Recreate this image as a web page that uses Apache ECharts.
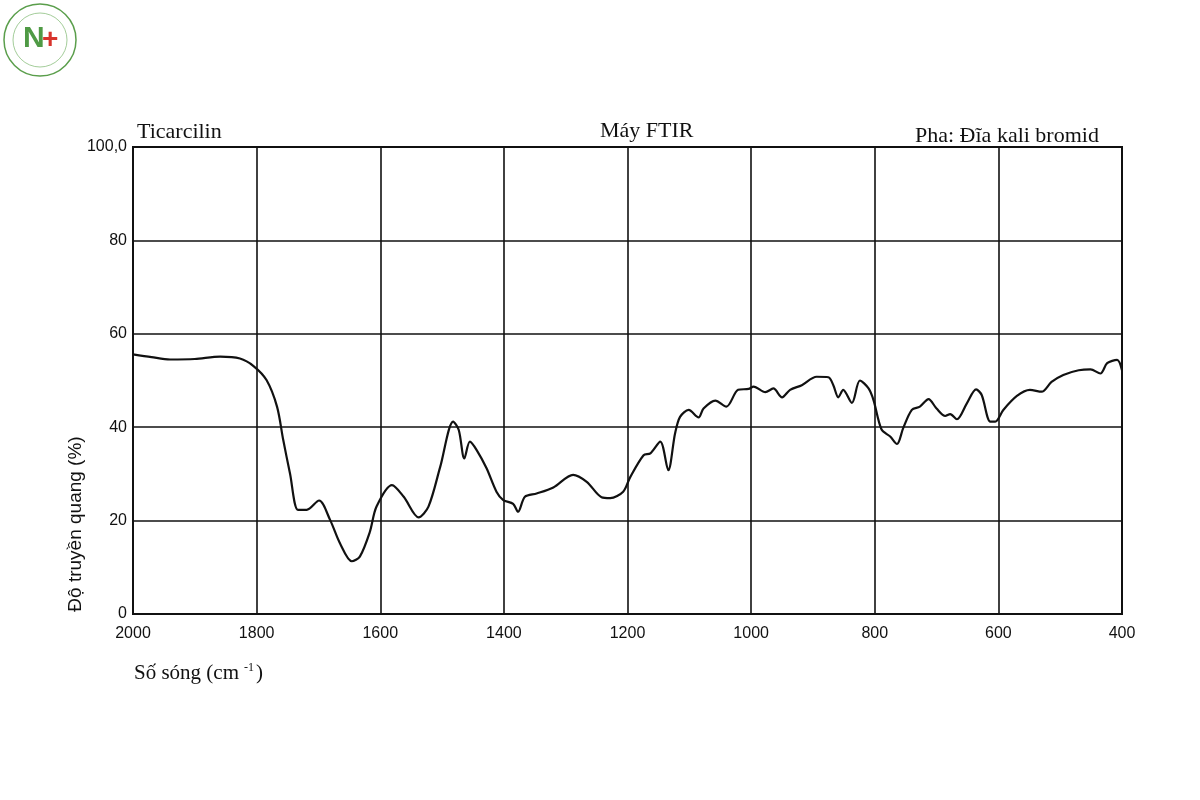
<!DOCTYPE html>
<html>
<head>
<meta charset="utf-8">
<script src="https://cdn.jsdelivr.net/npm/echarts@6/dist/echarts.min.js"></script>
<style>
  html, body { margin: 0; padding: 0; background: #fff; }
  #chart { width: 1200px; height: 800px; }
</style>
</head>
<body>
<div id="chart"></div>
<script>
// Phổ FTIR Ticarcilin - số sóng (cm-1) và độ truyền quang (%)
const wavenumbers = [
    2000, 1970, 1940, 1900, 1859, 1827, 1805, 1784, 1767, 1757, 1746, 1733, 1719, 1699,
    1681, 1665, 1646, 1633, 1617, 1606, 1581, 1562, 1538, 1522, 1503, 1482, 1473, 1464,
    1455, 1444, 1428, 1412, 1401, 1385, 1377, 1366, 1347, 1320, 1288, 1266, 1242, 1228,
    1207, 1196, 1174, 1163, 1147, 1134, 1123, 1115, 1101, 1085, 1077, 1058, 1040, 1021,
    1004, 996, 977, 964, 950, 937, 918, 894, 875, 867, 859, 851, 837, 824, 810, 802,
    789, 775, 764, 754, 740, 727, 713, 700, 686, 678, 667, 651, 636, 627, 613, 605,
    592, 570, 549, 530, 514, 495, 470, 451, 435, 424, 408, 400
];
const transmittance = [
    55.6, 55.0, 54.5, 54.6, 55.1, 54.7, 53.1, 50.1, 44.4, 37.3, 30.1, 22.3, 22.3, 24.3,
    20.1, 15.1, 11.3, 12.3, 17.5, 23.0, 27.6, 25.1, 20.7, 23.0, 31.5, 41.2, 39.4, 33.3,
    36.9, 35.1, 31.2, 26.2, 24.4, 23.6, 21.9, 25.1, 25.8, 27.1, 29.8, 28.3, 25.0, 24.8,
    26.2, 29.2, 34.0, 34.4, 36.9, 30.8, 38.7, 42.2, 43.7, 42.1, 44.0, 45.7, 44.4, 48.0,
    48.2, 48.7, 47.5, 48.3, 46.4, 48.0, 49.0, 50.8, 50.7, 49.0, 46.4, 48.0, 45.2, 50.0, 48.3, 45.8,
    39.5, 38.0, 36.4, 39.8, 43.7, 44.4, 46.0, 44.0, 42.4, 42.8, 41.7, 45.1, 48.1, 46.9, 41.2, 41.2,
    43.7, 46.7, 48.0, 47.6, 49.7, 51.2, 52.2, 52.4, 51.5, 53.7, 54.4, 52.2
];
const yTickLabels = { 0: '0', 20: '20', 40: '40', 60: '60', 80: '80', 100: '100,0' };

const chart = echarts.init(document.getElementById('chart'));
const serif = '"Liberation Serif", "DejaVu Serif", serif';
const sans = '"Liberation Sans", Arial, sans-serif';
const titleStyle = { fontFamily: serif, fontSize: 22, fontWeight: 'normal', color: '#111' };

const option = {
    animation: false,
    backgroundColor: '#fff',
    title: [
        { text: 'Ticarcilin', left: 132, top: 116, textStyle: titleStyle },
        { text: 'Máy FTIR', left: 595, top: 115, textStyle: titleStyle },
        { text: 'Pha: Đĩa kali bromid', left: 910, top: 120, textStyle: titleStyle }
    ],
    grid: { left: 133, right: 78, top: 147, bottom: 186 },
    xAxis: {
        type: 'value',
        min: 400,
        max: 2000,
        interval: 200,
        inverse: true,
        axisLine: { show: true, lineStyle: { color: '#111', width: 2 } },
        axisTick: { show: false },
        axisLabel: { color: '#111', fontFamily: sans, fontSize: 16, margin: 12, formatter: v => String(v) },
        splitLine: { show: true, lineStyle: { color: '#111', width: 1.6 } }
    },
    yAxis: {
        type: 'value',
        min: 0,
        max: 100,
        interval: 20,
        axisLine: { show: true, lineStyle: { color: '#111', width: 2 } },
        axisTick: { show: false },
        axisLabel: {
            color: '#111', fontFamily: sans, fontSize: 16, margin: 6,
            verticalAlign: 'middle', padding: [0, 0, 6, 0],
            formatter: v => yTickLabels[v] || ''
        },
        splitLine: { show: true, lineStyle: { color: '#111', width: 1.6 } }
    },
    graphic: [
        // khung phải và trên
        { type: 'rect', shape: { x: 133, y: 147, width: 989, height: 467 }, style: { fill: 'none', stroke: '#111', lineWidth: 2 }, silent: true },
        // tên trục tung
        { type: 'text', x: 76, y: 524, rotation: Math.PI / 2, style: { text: 'Độ truyền quang (%)', font: '19px ' + sans, fill: '#111', align: 'center', verticalAlign: 'middle' } },
        // tên trục hoành
        { type: 'text', left: 134, top: 663, style: { text: 'Số sóng (cm', font: '21px ' + serif, fill: '#111' } },
        { type: 'text', left: 244, top: 662, style: { text: '-1', font: '12px ' + serif, fill: '#111' } },
        { type: 'text', left: 256, top: 663, style: { text: ')', font: '21px ' + serif, fill: '#111' } },
        // logo
        { type: 'circle', shape: { cx: 40, cy: 40, r: 36 }, style: { fill: '#fff', stroke: '#5a9e4b', lineWidth: 1.5 } },
        { type: 'circle', shape: { cx: 40, cy: 40, r: 27 }, style: { fill: 'none', stroke: '#8bbf7f', lineWidth: 0.8 } },
        { type: 'text', left: 23, top: 24, style: { text: 'N', font: 'bold 30px ' + sans, fill: '#4f9a45' } },
        { type: 'text', left: 42, top: 26, style: { text: '+', font: 'bold 28px ' + sans, fill: '#d8342c' } }
    ],
    series: [
        {
            type: 'line',
            data: wavenumbers.map((w, i) => [w, transmittance[i]]),
            showSymbol: false,
            smooth: 0.3,
            lineStyle: { color: '#111', width: 2.2 }
        }
    ]
};
chart.setOption(option);
</script>
</body>
</html>
